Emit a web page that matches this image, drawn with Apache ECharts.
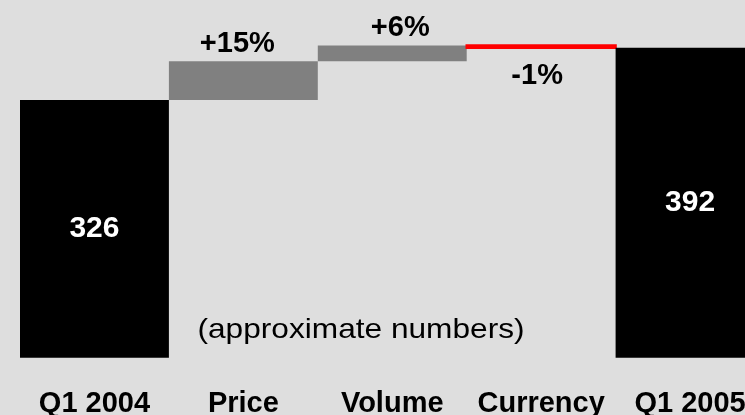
<!DOCTYPE html>
<html>
<head>
<meta charset="utf-8">
<script src="https://cdn.jsdelivr.net/npm/echarts@6/dist/echarts.min.js"></script>
<style>
html,body{margin:0;padding:0;background:#dedede;}
#chart{width:745px;height:415px;}
</style>
</head>
<body>
<div id="chart"></div>
<script>
// Data
const categories = ['Q1 2004', 'Price', 'Volume', 'Currency', 'Q1 2005'];
const startValue = 326;
const changes = [49, 20, -3];            // Price, Volume, Currency
const changeLabels = ['+15%', '+6%', '-1%'];
const endValue = 392;
const note = '(approximate numbers)';

// Build waterfall rows: [categoryIndex, low, high, kind, label]
const rows = [[0, 0, startValue, 'total', String(startValue)]];
let running = startValue;
changes.forEach(function (c, i) {
  const next = running + c;
  rows.push([i + 1, Math.min(running, next), Math.max(running, next), c < 0 ? 'down' : 'up', changeLabels[i]]);
  running = next;
});
rows.push([categories.length - 1, 0, endValue, 'total', String(endValue)]);

const FONT = '"Liberation Sans", Arial, sans-serif';
// small horizontal nudges of the change labels, as in the original slide
const labelNudge = [0, -6, 8, -4, 0];

function renderItem(params, api) {
  const idx = api.value(0);
  const top = api.coord([idx, api.value(2)]);
  const bottom = api.coord([idx, api.value(1)]);
  const w = api.size([1, 0])[0];
  const kind = rows[params.dataIndex][3];
  const text = rows[params.dataIndex][4];
  const nudge = labelNudge[params.dataIndex] || 0;
  const shape = { x: top[0] - w / 2, y: top[1], width: w, height: bottom[1] - top[1] };
  let style, textStyle, textConfig;
  if (kind === 'total') {
    style = { fill: '#000000' };
    textStyle = { text: text, fill: '#ffffff', fontSize: 30, fontWeight: 'bold', fontFamily: FONT };
    textConfig = { position: 'inside' };
  } else if (kind === 'up') {
    style = { fill: '#808080' };
    textStyle = { text: text, fill: '#000000', fontSize: 29, fontWeight: 'bold', fontFamily: FONT };
    textConfig = { position: 'top', distance: 3, offset: [nudge, 0] };
  } else {
    style = { fill: '#ff0000', stroke: '#ff0000', lineWidth: 2.4 };
    textStyle = { text: text, fill: '#000000', fontSize: 29, fontWeight: 'bold', fontFamily: FONT };
    textConfig = { position: 'bottom', distance: 12, offset: [nudge, 0] };
  }
  return { type: 'rect', shape: shape, style: style, textContent: { style: textStyle }, textConfig: textConfig };
}

const chart = echarts.init(document.getElementById('chart'), null, { renderer: 'canvas' });
chart.setOption({
  backgroundColor: '#dedede',
  animation: false,
  grid: { left: 20, top: 0, right: -19.5, bottom: 57.3, containLabel: false, outerBoundsMode: 'none' },
  xAxis: {
    type: 'category',
    data: categories,
    axisLine: { show: false },
    axisTick: { show: false },
    axisLabel: { margin: 32, color: '#000000', fontSize: 29, fontWeight: 'bold', fontFamily: FONT, interval: 0 },
    splitLine: { show: false }
  },
  yAxis: {
    type: 'value', min: 0, max: 452.5, show: false, splitLine: { show: false }
  },
  series: [{
    type: 'custom',
    renderItem: renderItem,
    data: rows.map(function (r) { return [r[0], r[1], r[2]]; }),
    encode: { x: 0, y: [1, 2] }
  }],
  graphic: [{
    type: 'text', x: 361, y: 330, scaleX: 1.13,
    style: { text: note, x: 0, y: 0, align: 'center', verticalAlign: 'middle',
      fill: '#000000', fontSize: 28, fontFamily: FONT }
  }]
});
</script>
</body>
</html>
